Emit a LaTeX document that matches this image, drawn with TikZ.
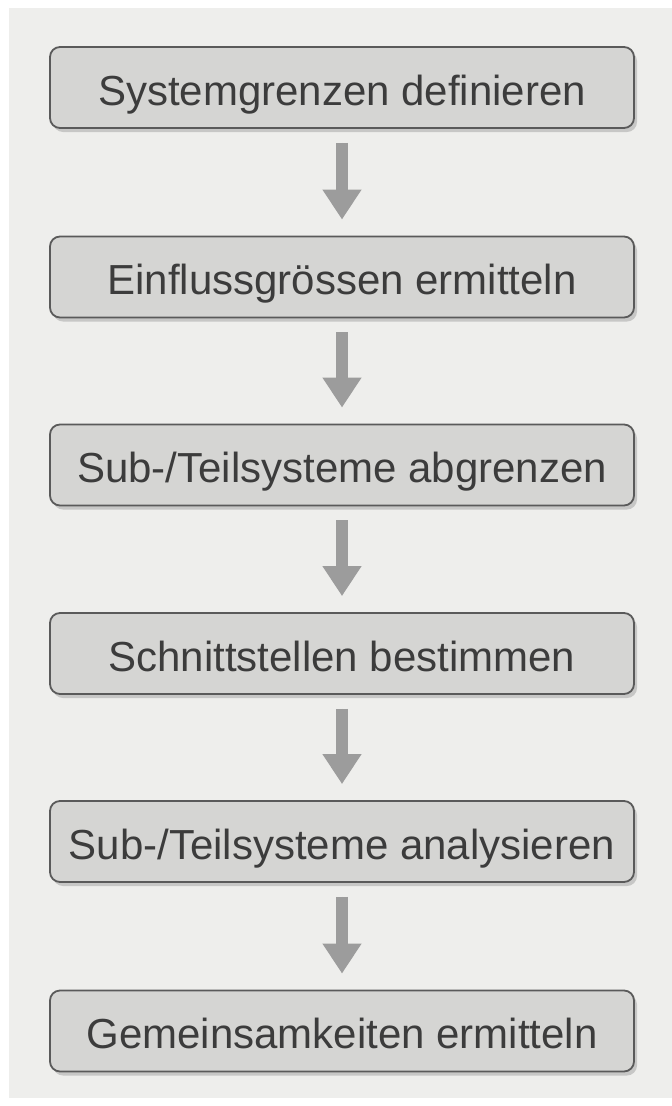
\documentclass[tikz,border=0pt]{standalone}
\usepackage{fontspec}
\setmainfont{Liberation Sans}
\usetikzlibrary{arrows.meta,shadows,calc}
\definecolor{panel}{HTML}{EEEEEC}
\definecolor{boxfill}{HTML}{D5D5D3}
\definecolor{boxline}{HTML}{5A5A5A}
\definecolor{txt}{HTML}{3C3C3C}
\definecolor{arrowgray}{HTML}{9C9C9C}
\tikzset{
  stepbox/.style={draw=boxline, line width=1.8pt, fill=boxfill,
    rounded corners=10pt, minimum width=584pt, minimum height=81pt,
    inner sep=0pt, text=txt, text height=35pt, text depth=0pt,
    font=\fontsize{42}{46}\selectfont,
    drop shadow={opacity=0.35, shadow xshift=3pt, shadow yshift=-4pt}},
  flow/.style={draw=arrowgray, line width=12pt,
    -{Triangle[width=37pt,length=30pt]}, fill=arrowgray,
    shorten <=14pt, shorten >=16pt}
}
\begin{document}
\begin{tikzpicture}[x=1pt,y=-1pt]
  % page and grey panel
  \useasboundingbox (0,0) rectangle (672,1106);
  \fill[white] (0,0) rectangle (672,1106);
  \fill[panel] (9,8) rectangle (672,1098);
  % process steps
  \node[stepbox] (s1) at (342,87.5)  {Systemgrenzen definieren};
  \node[stepbox] (s2) at (342,277)   {Einflussgrössen ermitteln};
  \node[stepbox] (s3) at (342,465)   {Sub-/Teilsysteme abgrenzen};
  \node[stepbox] (s4) at (342,653.5) {Schnittstellen bestimmen};
  \node[stepbox] (s5) at (342,841.5) {Sub-/Teilsysteme analysieren};
  \node[stepbox] (s6) at (342,1031)  {Gemeinsamkeiten ermitteln};
  % arrows between steps
  \foreach \a/\b in {s1/s2,s2/s3,s3/s4,s4/s5,s5/s6}
    \draw[flow] (\a.south) -- (\b.north);
\end{tikzpicture}
\end{document}
